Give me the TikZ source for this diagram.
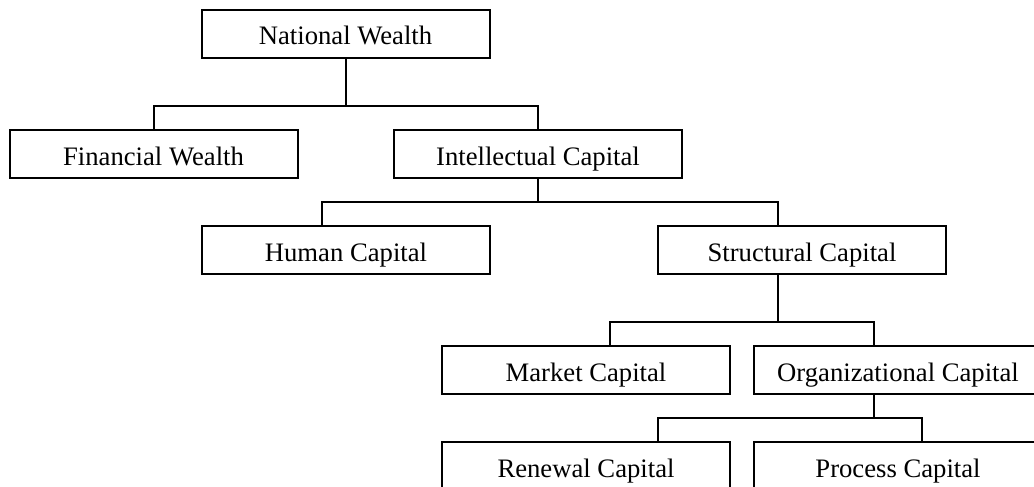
\documentclass[tikz,border=0pt]{standalone}
\usepackage{fontspec}
\setmainfont{Liberation Serif}
\begin{document}
\begin{tikzpicture}[x=0.75pt,y=-0.75pt,
  box/.style={draw,line width=1.5pt,minimum width=216pt,minimum height=36pt,
    inner sep=0pt,text height=16.5pt,text depth=0pt,
    font=\fontsize{20pt}{24pt}\selectfont},
  link/.style={line width=1.5pt}]
\useasboundingbox (0,0) rectangle (1034,486);
\clip (0,0) rectangle (1034,486);
\fill[white] (0,0) rectangle (1034,486);

% boxes
\node[box] (nw) at (345.5,33.5) {National Wealth};
\node[box] (fw) at (153.5,154) {Financial Wealth};
\node[box] (ic) at (538,154) {Intellectual Capital};
\node[box] (hc) at (346,250) {Human Capital};
\node[box] (sc) at (802,250) {Structural Capital};
\node[box] (mc) at (586,370) {Market Capital};
\node[box] (oc) at (898,370) {Organizational Capital};
\node[box] (rc) at (586,466) {Renewal Capital};
\node[box] (pc) at (898,466) {Process Capital};

% bus levels
\coordinate (y1) at (0,106);
\coordinate (y2) at (0,202);
\coordinate (y3) at (0,322);
\coordinate (y4) at (0,418);

% connectors
\draw[link] (nw.south) -- (nw.south |- y1) -| (fw.north);
\draw[link] (nw.south |- y1) -| (ic.north);

\draw[link] (ic.south) -- (ic.south |- y2) -| ([xshift=-18pt]hc.north);
\draw[link] (ic.south |- y2) -| ([xshift=-18pt]sc.north);

\draw[link] ([xshift=-18pt]sc.south) -- ([xshift=-18pt]sc.south |- y3) -| ([xshift=18pt]mc.north);
\draw[link] ([xshift=-18pt]sc.south |- y3) -| ([xshift=-18pt]oc.north);

\draw[link] ([xshift=-18pt]oc.south) -- ([xshift=-18pt]oc.south |- y4) -| ([xshift=54pt]rc.north);
\draw[link] ([xshift=-18pt]oc.south |- y4) -| ([xshift=18pt]pc.north);
\end{tikzpicture}
\end{document}
